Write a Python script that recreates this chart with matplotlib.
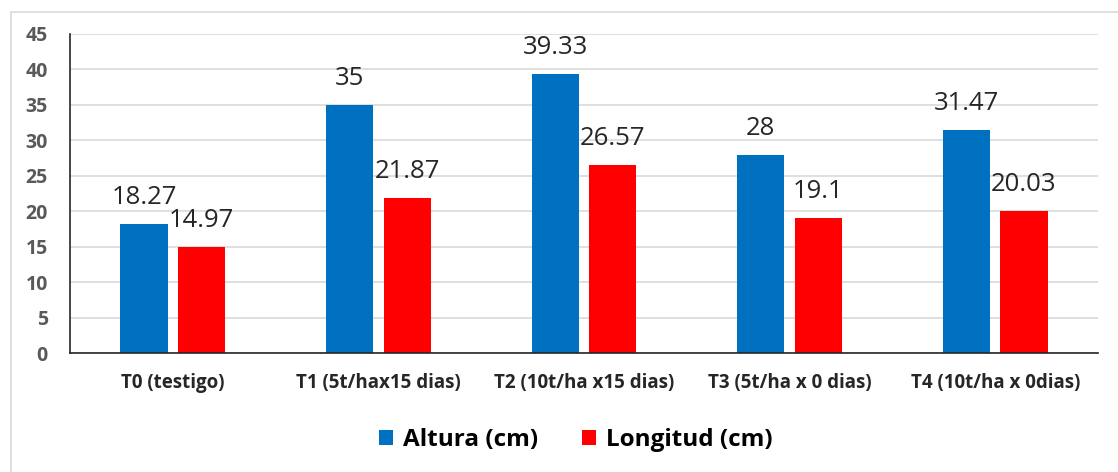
import matplotlib
matplotlib.use("Agg")
import matplotlib.pyplot as plt
import numpy as np
from matplotlib.patches import Rectangle

plt.rcParams['font.family'] = ['Open Sans', 'DejaVu Sans']

tratamientos = ["T0 (testigo)", "T1 (5t/hax15 dias)", "T2 (10t/ha x15 dias)",
                "T3 (5t/ha x 0 dias)", "T4 (10t/ha x 0dias)"]
altura = [18.27, 35, 39.33, 28, 31.47]
longitud = [14.97, 21.87, 26.57, 19.1, 20.03]

fig = plt.figure(figsize=(11.18, 4.72), dpi=100)
ax = fig.add_axes([0.0626, 0.252, 0.9195, 0.676])

# thin frame around the whole chart area
fig.patches.append(Rectangle((11 / 1118, -0.1), 1.2, 1.1 - 12 / 472,
                             transform=fig.transFigure, fill=False,
                             edgecolor="#d9d9d9", linewidth=1.2))

x = np.arange(len(tratamientos))
w = 0.229
b1 = ax.bar(x - 0.14, altura, w, color="#0070c0", label="Altura (cm)")
b2 = ax.bar(x + 0.14, longitud, w, color="#ff0000", label="Longitud (cm)")

for bars, vals in ((b1, altura), (b2, longitud)):
    for r, v in zip(bars, vals):
        ax.annotate(f"{v:g}", (r.get_x() + r.get_width() / 2, v),
                    xytext=(0, 10), textcoords="offset points",
                    ha="center", va="bottom", fontsize=18.5, color="#262626")

ax.set_xlim(-0.5, len(tratamientos) - 0.5)
ax.set_ylim(0, 45)
ax.set_yticks(range(0, 46, 5))
ax.yaxis.grid(True, color="#d9d9d9", linewidth=1.2)
ax.set_axisbelow(True)

ax.set_xticks(x)
ax.set_xticklabels(tratamientos, fontsize=13.5, fontweight="bold", color="#262626")
ax.tick_params(axis="x", length=0, pad=14)
ax.tick_params(axis="y", length=0, pad=16, labelsize=14, labelcolor="#595959")
for lbl in ax.get_yticklabels():
    lbl.set_fontweight("bold")

for s in ("top", "right"):
    ax.spines[s].set_visible(False)
ax.spines["left"].set_color("#262626")
ax.spines["bottom"].set_color("#262626")
ax.spines["left"].set_linewidth(1.2)
ax.spines["bottom"].set_linewidth(1.2)

fig.legend(handles=[b1, b2], loc="center", bbox_to_anchor=(0.515, 0.068),
           ncol=2, frameon=False, prop={"size": 17.5, "weight": "bold"},
           handlelength=0.6, handleheight=0.6, handletextpad=0.4,
           columnspacing=1.8)

fig.savefig("out.png", dpi=100)
